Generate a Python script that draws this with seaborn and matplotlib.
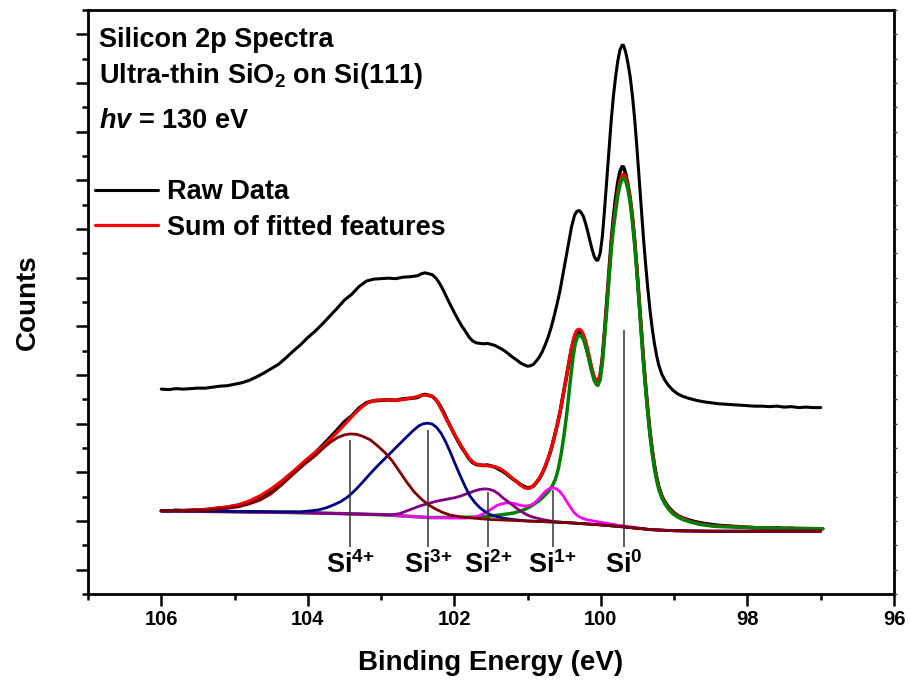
import numpy as np
import matplotlib
matplotlib.use("Agg")
import matplotlib.pyplot as plt
import matplotlib.font_manager as fm
import seaborn as sns
from matplotlib.ticker import MultipleLocator

# ---------------- data (binding energy in eV, counts in arbitrary units) ----------------
raw_ev = [106.00, 105.90, 105.80, 105.70, 105.60, 105.50, 105.40, 105.30, 105.20, 105.10,
          105.00, 104.90, 104.80, 104.70, 104.60, 104.50, 104.40, 104.30, 104.20, 104.10,
          104.00, 103.90, 103.80, 103.70, 103.60, 103.50, 103.40, 103.30, 103.20, 103.10,
          103.00, 102.90, 102.80, 102.70, 102.60, 102.50, 102.45, 102.40, 102.35, 102.30,
          102.25, 102.20, 102.15, 102.10, 102.05, 102.00, 101.95, 101.90, 101.85, 101.80,
          101.75, 101.70, 101.65, 101.60, 101.55, 101.50, 101.45, 101.40, 101.35, 101.30,
          101.25, 101.20, 101.15, 101.10, 101.05, 101.00, 100.96, 100.92, 100.88, 100.84,
          100.80, 100.76, 100.72, 100.68, 100.64, 100.60, 100.56, 100.52, 100.48, 100.44,
          100.40, 100.36, 100.33, 100.30, 100.27, 100.24, 100.21, 100.18, 100.15, 100.12,
          100.09, 100.06, 100.04, 100.01, 99.98, 99.95, 99.92, 99.89, 99.86, 99.83,
          99.80, 99.77, 99.74, 99.71, 99.69, 99.66, 99.63, 99.60, 99.57, 99.54,
          99.51, 99.48, 99.45, 99.42, 99.39, 99.36, 99.33, 99.30, 99.27, 99.24,
          99.21, 99.17, 99.13, 99.08, 99.02, 98.95, 98.88, 98.80, 98.70, 98.60,
          98.50, 98.40, 98.30, 98.20, 98.10, 98.00, 97.90, 97.80, 97.70, 97.60,
          97.50, 97.40, 97.30, 97.20, 97.10, 97.00]
raw_counts = [1.21, 1.20, 1.22, 1.21, 1.22, 1.23, 1.23, 1.25, 1.27, 1.28,
              1.31, 1.34, 1.39, 1.46, 1.54, 1.63, 1.72, 1.85, 1.99, 2.12,
              2.27, 2.40, 2.55, 2.71, 2.87, 3.04, 3.16, 3.32, 3.43, 3.47,
              3.48, 3.49, 3.48, 3.51, 3.52, 3.54, 3.58, 3.60, 3.58, 3.56,
              3.49, 3.38, 3.24, 3.08, 2.93, 2.78, 2.64, 2.51, 2.40, 2.28,
              2.20, 2.16, 2.15, 2.14, 2.15, 2.13, 2.11, 2.07, 2.03, 1.98,
              1.92, 1.86, 1.81, 1.75, 1.71, 1.68, 1.69, 1.72, 1.79, 1.87,
              1.98, 2.12, 2.28, 2.47, 2.70, 2.95, 3.22, 3.55, 3.88, 4.22,
              4.55, 4.78, 4.86, 4.88, 4.84, 4.76, 4.62, 4.45, 4.26, 4.08,
              3.93, 3.86, 3.86, 4.00, 4.35, 4.90, 5.50, 6.12, 6.72, 7.22,
              7.62, 7.95, 8.18, 8.28, 8.27, 8.12, 7.90, 7.62, 7.24, 6.77,
              6.20, 5.58, 4.95, 4.33, 3.78, 3.28, 2.83, 2.46, 2.15, 1.90,
              1.70, 1.52, 1.40, 1.29, 1.19, 1.11, 1.06, 1.02, 0.98, 0.95,
              0.93, 0.91, 0.90, 0.89, 0.88, 0.87, 0.86, 0.86, 0.85, 0.86,
              0.84, 0.85, 0.83, 0.84, 0.83, 0.83]
raw_offset = 2.5

sum_ev = [106.00, 105.60, 105.30, 105.10, 104.95, 104.80, 104.65, 104.50, 104.35, 104.20,
          104.05, 103.90, 103.78, 103.66, 103.55, 103.45, 103.35, 103.25, 103.17, 103.08,
          102.95, 102.80, 102.68, 102.58, 102.50, 102.42, 102.36, 102.30, 102.24, 102.18,
          102.12, 102.06, 102.00, 101.92, 101.85, 101.79, 101.72, 101.65, 101.58, 101.51,
          101.44, 101.38, 101.31, 101.24, 101.17, 101.10, 101.04, 101.00, 100.96, 100.92,
          100.87, 100.82, 100.78, 100.73, 100.68, 100.64, 100.60, 100.56, 100.52, 100.48,
          100.44, 100.40, 100.36, 100.33, 100.30, 100.27, 100.24, 100.21, 100.18, 100.15,
          100.12, 100.09, 100.06, 100.04, 100.01, 99.98, 99.95, 99.92, 99.89, 99.86,
          99.83, 99.80, 99.77, 99.74, 99.71, 99.69, 99.66, 99.63, 99.60, 99.57,
          99.54, 99.51, 99.48, 99.45, 99.42, 99.39, 99.36, 99.33, 99.30, 99.27,
          99.24, 99.21, 99.17, 99.13, 99.08, 99.02, 98.95, 98.88, 98.78, 98.65,
          98.45, 98.28, 97.83, 96.97]
sum_counts = [1.21, 1.22, 1.25, 1.29, 1.33, 1.41, 1.52, 1.66, 1.83, 2.02,
              2.22, 2.41, 2.55, 2.73, 2.90, 3.06, 3.22, 3.36, 3.44, 3.48,
              3.49, 3.48, 3.50, 3.53, 3.56, 3.59, 3.59, 3.56, 3.47, 3.30,
              3.12, 2.96, 2.78, 2.58, 2.40, 2.27, 2.18, 2.15, 2.14, 2.13,
              2.11, 2.08, 2.01, 1.92, 1.83, 1.74, 1.68, 1.67, 1.68, 1.73,
              1.82, 1.93, 2.06, 2.25, 2.47, 2.70, 2.95, 3.22, 3.55, 3.88,
              4.23, 4.57, 4.82, 4.92, 4.94, 4.92, 4.84, 4.71, 4.53, 4.33,
              4.12, 3.96, 3.88, 3.87, 4.00, 4.33, 4.86, 5.44, 6.05, 6.65,
              7.10, 7.46, 7.78, 7.99, 8.11, 8.13, 8.07, 7.88, 7.62, 7.24,
              6.77, 6.20, 5.58, 4.95, 4.33, 3.78, 3.27, 2.81, 2.44, 2.13,
              1.88, 1.69, 1.51, 1.38, 1.27, 1.17, 1.10, 1.05, 0.99, 0.94,
              0.90, 0.89, 0.86, 0.84]

si4_ev = [106.00, 105.60, 105.30, 105.10, 104.95, 104.80, 104.65, 104.50, 104.35, 104.20,
          104.05, 103.90, 103.80, 103.70, 103.60, 103.50, 103.42, 103.33, 103.25, 103.15,
          103.06, 102.95, 102.85, 102.75, 102.65, 102.55, 102.45, 102.35, 102.25, 102.15,
          102.05, 101.90, 101.75, 101.50, 101.00, 100.50, 100.00, 99.70, 99.50, 99.30,
          99.00, 98.50, 97.00]
si4_counts = [1.21, 1.21, 1.23, 1.26, 1.29, 1.35, 1.43, 1.56, 1.75, 1.96,
              2.16, 2.34, 2.48, 2.61, 2.71, 2.77, 2.79, 2.78, 2.74, 2.67,
              2.56, 2.41, 2.24, 2.02, 1.80, 1.60, 1.45, 1.33, 1.24, 1.17,
              1.12, 1.08, 1.06, 1.03, 1.00, 0.97, 0.92, 0.88, 0.85, 0.82,
              0.80, 0.79, 0.79]

si3_ev = [106.00, 105.00, 104.40, 104.10, 103.95, 103.85, 103.75, 103.65, 103.55, 103.45,
          103.35, 103.25, 103.15, 103.05, 102.95, 102.85, 102.75, 102.65, 102.56, 102.48,
          102.42, 102.36, 102.30, 102.24, 102.18, 102.12, 102.06, 102.00, 101.92, 101.85,
          101.79, 101.72, 101.65, 101.58, 101.51, 101.42, 101.34, 101.20, 101.00, 100.50,
          100.00, 99.70, 99.50, 99.30, 99.00, 98.50, 97.00]
si3_counts = [1.21, 1.20, 1.19, 1.19, 1.21, 1.23, 1.27, 1.33, 1.40, 1.50,
              1.64, 1.80, 1.97, 2.13, 2.28, 2.43, 2.58, 2.73, 2.86, 2.96,
              3.00, 3.01, 2.99, 2.92, 2.80, 2.63, 2.43, 2.21, 1.93, 1.70,
              1.52, 1.38, 1.27, 1.19, 1.13, 1.09, 1.06, 1.03, 1.00, 0.97,
              0.92, 0.88, 0.85, 0.82, 0.80, 0.79, 0.79]

si2_ev = [106.00, 104.50, 103.50, 103.00, 102.85, 102.75, 102.68, 102.61, 102.54, 102.47,
          102.40, 102.33, 102.26, 102.20, 102.13, 102.06, 101.99, 101.92, 101.85, 101.79,
          101.72, 101.65, 101.58, 101.52, 101.46, 101.40, 101.34, 101.27, 101.20, 101.13,
          101.06, 101.00, 100.93, 100.85, 100.76, 100.65, 100.50, 100.00, 99.70, 99.50,
          99.30, 99.00, 98.50, 97.00]
si2_counts = [1.21, 1.18, 1.15, 1.13, 1.13, 1.15, 1.19, 1.23, 1.27, 1.31,
              1.34, 1.37, 1.40, 1.42, 1.44, 1.46, 1.48, 1.51, 1.55, 1.58,
              1.62, 1.65, 1.66, 1.65, 1.62, 1.56, 1.48, 1.40, 1.32, 1.24,
              1.17, 1.12, 1.08, 1.05, 1.02, 0.99, 0.97, 0.92, 0.88, 0.85,
              0.82, 0.80, 0.79, 0.79]

si1_ev = [106.00, 104.00, 103.00, 102.33, 101.95, 101.85, 101.78, 101.72, 101.66, 101.60,
          101.54, 101.48, 101.42, 101.36, 101.30, 101.24, 101.18, 101.12, 101.06, 101.00,
          100.95, 100.90, 100.85, 100.80, 100.75, 100.70, 100.66, 100.62, 100.57, 100.52,
          100.47, 100.42, 100.37, 100.32, 100.26, 100.20, 100.10, 99.95, 99.80, 99.70,
          99.50, 99.37, 99.00, 98.50, 97.00]
si1_counts = [1.21, 1.17, 1.13, 1.07, 1.06, 1.06, 1.07, 1.08, 1.11, 1.15,
              1.20, 1.26, 1.32, 1.35, 1.37, 1.37, 1.36, 1.33, 1.31, 1.31,
              1.33, 1.38, 1.45, 1.54, 1.62, 1.67, 1.68, 1.67, 1.62, 1.53,
              1.41, 1.29, 1.18, 1.11, 1.06, 1.03, 1.00, 0.96, 0.92, 0.90,
              0.86, 0.83, 0.80, 0.79, 0.79]

si0_ev = [106.00, 104.00, 103.00, 102.33, 101.65, 101.40, 101.20, 101.05, 100.95, 100.85,
          100.79, 100.72, 100.67, 100.62, 100.58, 100.54, 100.50, 100.46, 100.42, 100.38,
          100.35, 100.32, 100.30, 100.27, 100.24, 100.21, 100.18, 100.15, 100.12, 100.09,
          100.06, 100.04, 100.01, 99.98, 99.95, 99.92, 99.89, 99.86, 99.83, 99.80,
          99.77, 99.74, 99.71, 99.69, 99.66, 99.63, 99.60, 99.57, 99.54, 99.51,
          99.48, 99.45, 99.42, 99.39, 99.36, 99.33, 99.30, 99.27, 99.24, 99.21,
          99.17, 99.13, 99.08, 99.02, 98.95, 98.88, 98.78, 98.65, 98.45, 98.28,
          97.83, 96.97]
si0_counts = [1.21, 1.17, 1.13, 1.07, 1.08, 1.12, 1.16, 1.23, 1.31, 1.41,
              1.49, 1.60, 1.70, 1.86, 2.08, 2.40, 2.80, 3.28, 3.85, 4.37,
              4.64, 4.78, 4.82, 4.80, 4.74, 4.61, 4.43, 4.24, 4.04, 3.88,
              3.80, 3.79, 3.90, 4.25, 4.78, 5.34, 5.95, 6.55, 7.00, 7.35,
              7.68, 7.90, 8.03, 8.05, 7.98, 7.80, 7.53, 7.15, 6.68, 6.12,
              5.50, 4.87, 4.25, 3.70, 3.20, 2.75, 2.38, 2.08, 1.84, 1.65,
              1.48, 1.36, 1.25, 1.15, 1.08, 1.03, 0.98, 0.93, 0.89, 0.88,
              0.86, 0.84]

peak_labels = ["Si$^{4{+}}$", "Si$^{3{+}}$", "Si$^{2{+}}$", "Si$^{1{+}}$", "Si$^{0}$"]
peak_pos = [103.42, 102.36, 101.54, 100.66, 99.69]
marker_top = [2.66, 2.87, 1.60, 1.64, 4.92]
marker_bottom = 0.46
label_y = -0.07

x_major = [106, 104, 102, 100, 98, 96]
info_lines = ["Silicon 2p Spectra", "Ultra-thin SiO$_{2}$ on Si(111)", "$\\mathit{hv}$ = 130 eV"]
legend_labels = ["Raw Data", "Sum of fitted features"]

# ---------------- style ----------------
sns.set_style("ticks")
plt.rcParams["font.family"] = ["Liberation Sans", "DejaVu Sans"]
plt.rcParams["font.weight"] = "bold"
plt.rcParams["mathtext.fontset"] = "custom"
plt.rcParams["mathtext.rm"] = "Liberation Sans:bold"
plt.rcParams["mathtext.bf"] = "Liberation Sans:bold"
plt.rcParams["mathtext.it"] = "Liberation Sans:italic:bold"
plt.rcParams["mathtext.default"] = "bf"
for key in ["text.color", "axes.labelcolor", "xtick.color", "ytick.color", "axes.edgecolor"]:
    plt.rcParams[key] = "black"

installed = {f.name for f in fm.fontManager.ttflist}
if "Liberation Sans Narrow" in installed:
    axis_family, axis_label_size, tick_size = "Liberation Sans Narrow", 23, 16
else:
    axis_family, axis_label_size, tick_size = "Liberation Sans", 20, 14.5

fig = plt.figure(figsize=(9.1, 6.84), dpi=100)
ax = fig.add_axes([88 / 910, 1 - 594 / 684, 806 / 910, 584 / 684])

def line(x, y, color, lw, z):
    sns.lineplot(x=x, y=y, ax=ax, color=color, linewidth=lw, sort=False,
                 estimator=None, legend=False, zorder=z)
    return ax.lines[-1]

raw_up = line(raw_ev, np.array(raw_counts) + raw_offset, "black", 2.2, 3)
line(raw_ev, raw_counts, "black", 2.6, 2)
red = line(sum_ev, sum_counts, "#ff0000", 2.3, 3)
line(si0_ev, si0_counts, "#008000", 2.5, 4)
line(si1_ev, si1_counts, "#ff00ff", 2.0, 5)
line(si2_ev, si2_counts, "#800080", 2.0, 6)
line(si3_ev, si3_counts, "#000080", 2.0, 7)
line(si4_ev, si4_counts, "#800000", 2.0, 8)

ax.vlines(peak_pos, marker_bottom, marker_top, color="#333333", linewidth=1.1, zorder=9)
for p, lab in zip(peak_pos, peak_labels):
    ax.text(p, label_y, lab, ha="center", va="baseline", fontsize=19.5, fontweight="bold",
            color="black")

ax.set_xlim(107, 96)
ax.set_ylim(-0.5, 11.5)
ax.set_xticks(x_major)
ax.set_xticklabels([str(v) for v in x_major])
ax.xaxis.set_minor_locator(MultipleLocator(1))
ax.yaxis.set_major_locator(MultipleLocator(1))
ax.yaxis.set_minor_locator(MultipleLocator(0.5))
ax.tick_params(axis="x", which="major", direction="out", length=8.6, width=1.8,
               labelsize=tick_size, pad=3, color="black", labelcolor="black")
ax.tick_params(axis="x", which="minor", direction="out", length=4.3, width=1.8, color="black")
ax.tick_params(axis="y", which="major", direction="out", length=8.6, width=1.8,
               labelleft=False, color="black")
ax.tick_params(axis="y", which="minor", direction="out", length=4.3, width=1.8, color="black")
for lab in ax.get_xticklabels():
    lab.set_fontfamily(axis_family)
    lab.set_fontweight("bold")
for s in ax.spines.values():
    s.set_linewidth(2.0)
    s.set_color("black")

ax2 = ax.twinx()
ax2.set_ylim(-0.5, 11.5)
ax2.yaxis.set_major_locator(MultipleLocator(1))
ax2.yaxis.set_minor_locator(MultipleLocator(0.5))
ax2.tick_params(axis="y", which="both", direction="out", length=1.8, width=1.0,
                labelright=False, color="#444444")
for s in ax2.spines.values():
    s.set_visible(False)

ax.set_xlabel("Binding Energy (eV)", fontsize=axis_label_size, fontweight="bold",
              family=axis_family, color="black")
ax.set_ylabel("Counts", fontsize=axis_label_size, fontweight="bold",
              family=axis_family, color="black")
ax.xaxis.set_label_coords(0.5, -0.096)
ax.yaxis.set_label_coords(-0.058, 0.5)

baselines = [47, 83, 128]
for txt, b in zip(info_lines, baselines):
    ax.text((99 - 88) / 806, (594 - b) / 584, txt, transform=ax.transAxes,
            ha="left", va="baseline", fontsize=19.5, fontweight="bold", color="black")

leg = ax.legend(handles=[raw_up, red], labels=legend_labels, loc="upper left",
                bbox_to_anchor=((95 - 88) / 806, (594 - 179) / 584), frameon=False,
                prop={"size": 19.5, "weight": "bold"}, handlelength=2.32, handletextpad=0.33,
                labelspacing=0.36, borderpad=0, borderaxespad=0)
for t in leg.get_texts():
    t.set_color("black")

fig.savefig("out.png", dpi=100)
